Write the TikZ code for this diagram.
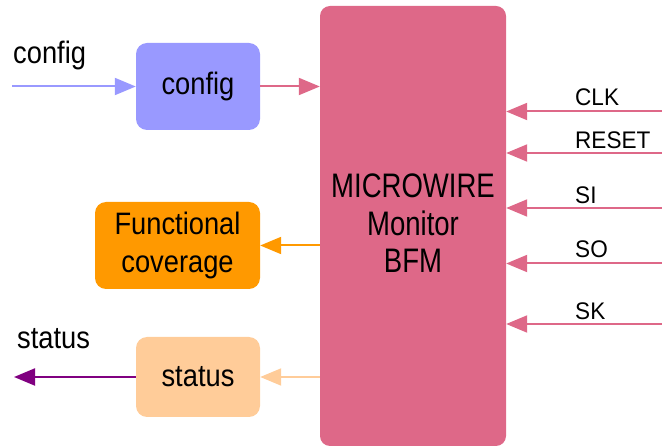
\documentclass[tikz,border=0pt]{standalone}
\usepackage{fontspec}
\setmainfont{Liberation Sans}[FakeStretch=0.88]
\newfontfamily\blockfont{Liberation Sans}[FakeStretch=0.81]
\newfontfamily\pinfont{Liberation Sans}[FakeStretch=0.94]
\usetikzlibrary{arrows.meta}

\definecolor{bfmpink}{RGB}{222,104,136}
\definecolor{cfgblue}{RGB}{153,153,255}
\definecolor{covorange}{RGB}{255,153,0}
\definecolor{statpeach}{RGB}{255,204,153}
\definecolor{statpurple}{RGB}{128,0,128}

\tikzset{
  blockbox/.style={rectangle, rounded corners=11pt, draw=none, inner sep=0pt,
    align=center, font=\fontsize{31}{38}\selectfont},
  sigline/.style={line width=2pt, -{Triangle[length=21pt,width=17pt]}},
  extlabel/.style={anchor=base west, inner sep=0pt, font=\fontsize{31}{38}\selectfont},
  pinlabel/.style={anchor=base west, inner sep=0pt, font=\pinfont\fontsize{24}{28}\selectfont},
}

\begin{document}
\begin{tikzpicture}[x=1pt,y=-1pt]
\useasboundingbox (0,0) rectangle (662,446);

% central bus functional model
\node[rectangle, rounded corners=10pt, fill=bfmpink, inner sep=0pt,
      minimum width=186pt, minimum height=440pt] (bfm) at (413,226) {};
\node[inner sep=0pt, align=center, font=\blockfont\fontsize{34}{37.5}\selectfont]
      (bfmtext) at (413,223.5) {MICROWIRE\\Monitor\\BFM};

% side blocks
\node[blockbox, fill=cfgblue, minimum width=124pt, minimum height=87pt] (cfg) at (198,86.5) {config};
\node[blockbox, fill=covorange, minimum width=165pt, minimum height=87pt] (cov) at (177.5,245.5) {Functional\\coverage};
\node[blockbox, fill=statpeach, minimum width=124pt, minimum height=80pt] (st) at (198,377) {status};

% configuration input
\coordinate (cfgin) at (12,86.5);
\node[extlabel] (cfglabel) at (13,64) {config};
\draw[sigline, cfgblue] (cfgin) -- (cfg.west);
\draw[sigline, bfmpink] (cfg.east) -- (cfg.east -| bfm.west);

% coverage and status outputs
\draw[sigline, covorange] (cov.east -| bfm.west) -- (cov.east);
\draw[sigline, statpeach] (st.east -| bfm.west) -- (st.east);
\coordinate (stout) at (14,377);
\node[extlabel] (stlabel) at (17,349) {status};
\draw[sigline, statpurple] (st.west) -- (stout);

% MICROWIRE pins
\coordinate (clk) at (662,111.5);
\coordinate (rst) at (662,153);
\coordinate (si) at (662,208);
\coordinate (so) at (662,263.5);
\coordinate (sk) at (662,324);
\foreach \p in {clk,rst,si,so,sk}
  \draw[sigline, bfmpink] (\p) -- (\p -| bfm.east);

\node[pinlabel] (clklabel) at (575,106) {CLK};
\node[pinlabel] (rstlabel) at (575,149) {RESET};
\node[pinlabel] (silabel) at (575,204) {SI};
\node[pinlabel] (solabel) at (575,258) {SO};
\node[pinlabel] (sklabel) at (575,320) {SK};
\end{tikzpicture}
\end{document}
